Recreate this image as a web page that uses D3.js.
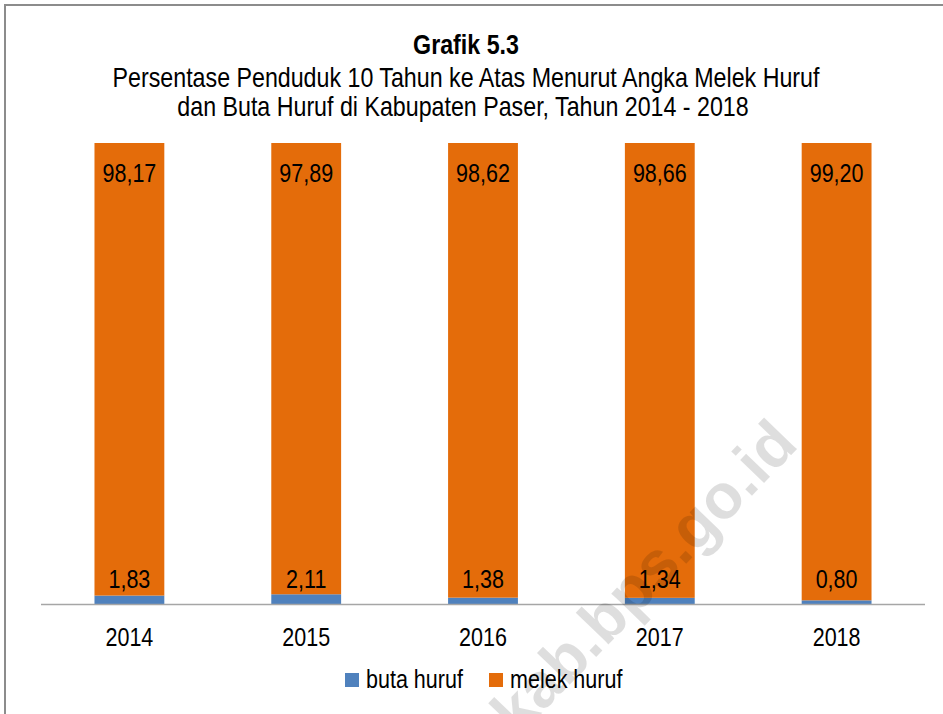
<!DOCTYPE html>
<html>
<head>
<meta charset="utf-8">
<script src="https://cdn.jsdelivr.net/npm/d3@7"></script>
<style>
  html, body { margin: 0; padding: 0; background: #fff; }
  svg { display: block; }
  text { font-family: "Liberation Sans", Arial, sans-serif; }
</style>
</head>
<body>
<svg id="chart" width="943" height="714"></svg>
<script>
const years = ["2014", "2015", "2016", "2017", "2018"];
const butaHuruf = [1.83, 2.11, 1.38, 1.34, 0.80];
const melekHuruf = [98.17, 97.89, 98.62, 98.66, 99.20];
const seriesNames = ["buta huruf", "melek huruf"];
const seriesColors = ["#4F81BD", "#E46C0A"];
const titleLines = ["Grafik 5.3",
  "Persentase Penduduk 10 Tahun ke Atas Menurut Angka Melek Huruf",
  "dan Buta Huruf di Kabupaten Paser, Tahun 2014 - 2018"];
const watermark = "paserkab.bps.go.id";

const W = 943, H = 714;
const NARROW = 0.815;
const svg = d3.select("#chart");
const fmt = v => v.toFixed(2).replace(".", ",");

// narrow text helper
function ntext(parent, x, y, str, size, opts = {}) {
  const g = parent.append("g").attr("transform", `translate(${x},${y}) scale(${NARROW},1)`);
  const t = g.append("text").attr("font-size", size).attr("fill", "#000")
    .attr("text-anchor", opts.anchor || "start").text(str);
  if (opts.bold) t.attr("font-weight", "bold");
  return t;
}

// frame
svg.append("rect").attr("x", 5).attr("y", 5).attr("width", W + 10).attr("height", H + 10)
  .attr("fill", "#fff").attr("stroke", "#8c8c8c").attr("stroke-width", 2);

const plot = { left: 41, right: 925, top: 143, bottom: 604 };
const x = d3.scaleBand().domain(years).range([plot.left, plot.right]).paddingInner(0.605).paddingOuter(0.3025);
const y = d3.scaleLinear().domain([0, 100]).range([plot.bottom, plot.top]);

const rows = years.map((yr, i) => ({ year: yr, "buta huruf": butaHuruf[i], "melek huruf": melekHuruf[i] }));
const stack = d3.stack().keys(seriesNames)(rows);

svg.append("g").selectAll("g.series").data(stack).join("g")
  .attr("fill", (d, i) => seriesColors[i])
  .selectAll("rect").data(d => d).join("rect")
  .attr("x", d => x(d.data.year))
  .attr("width", x.bandwidth())
  .attr("y", d => y(d[1]))
  .attr("height", d => y(d[0]) - y(d[1]));

// axis
const xAxis = d3.axisBottom(x).tickSize(0).tickPadding(23);
const ax = svg.append("g").attr("transform", `translate(0,${plot.bottom})`).call(xAxis);
ax.select(".domain").attr("stroke", "#a6a6a6").attr("stroke-width", 1.5).attr("d", `M${plot.left},0.5H${plot.right}`);
ax.selectAll("text").attr("font-family", "Liberation Sans, Arial, sans-serif")
  .attr("font-size", 26.4).attr("fill", "#000").attr("dy", "0.71em")
  .attr("transform", `scale(${NARROW},1)`);

// labels
const lbl = svg.append("g");
rows.forEach(d => {
  const cx = x(d.year) + x.bandwidth() / 2;
  ntext(lbl, cx, y(100) + 39, fmt(d["melek huruf"]), 26.4, { anchor: "middle" });
  ntext(lbl, cx, y(0) - 16, fmt(d["buta huruf"]), 26.4, { anchor: "middle" });
});

// title
const t = svg.append("g");
ntext(t, 466, 54, titleLines[0], 28.5, { anchor: "middle", bold: true });
ntext(t, 466, 87, titleLines[1], 28.5, { anchor: "middle" });
ntext(t, 463, 116, titleLines[2], 28.5, { anchor: "middle" });

// legend
const leg = svg.append("g");
const legX = [345, 489];
seriesNames.forEach((s, i) => {
  leg.append("rect").attr("x", legX[i]).attr("y", 673).attr("width", 14).attr("height", 14).attr("fill", seriesColors[i]);
  ntext(leg, legX[i] + 21, 688, s, 26.4);
});

// watermark
svg.append("text")
  .attr("transform", "translate(800,446) rotate(-46)")
  .attr("text-anchor", "end")
  .attr("font-family", "Liberation Sans, Arial, sans-serif")
  .attr("font-weight", "bold")
  .attr("font-size", 63)
  .attr("fill", "#000").attr("fill-opacity", 0.13)
  .text(watermark);
</script>
</body>
</html>
